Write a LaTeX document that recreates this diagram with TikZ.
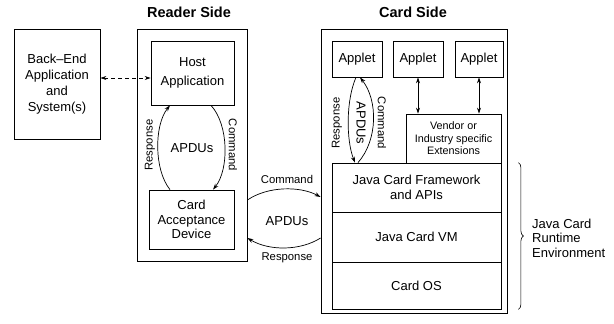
\documentclass[tikz,border=0pt]{standalone}
\usepackage{fontspec}
\setmainfont{Liberation Sans}
\usetikzlibrary{arrows.meta,calc,decorations.pathreplacing}
\newcommand\myMain{\fontsize{13}{14.5}\selectfont}
\newcommand\mySmall{\fontsize{11.3}{13}\selectfont}
\newcommand\myVend{\fontsize{10.8}{12.5}\selectfont}
\newcommand\myTitle{\fontsize{14.5}{16}\selectfont\bfseries}
\begin{document}
\begin{tikzpicture}[x=1pt,y=-1pt,
  box/.style={draw,line width=0.8pt,inner sep=0pt,align=center,font=\myMain},
  lbl/.style={font=\mySmall,inner sep=0pt},
  arr/.style={line width=0.7pt,-{Stealth[length=6pt,width=4pt]}},
  dblarr/.style={line width=0.7pt,{Stealth[length=6pt,width=4pt]}-{Stealth[length=6pt,width=4pt]}},
]
\useasboundingbox (0,0) rectangle (614,324);
% titles
\node[font=\myTitle] (rtitle) at (189,12) {Reader Side};
\node[font=\myTitle] (ctitle) at (413,12) {Card Side};
% reader side
\node[box,minimum width=86,minimum height=110] (backend) at (57,84) {Back–End\\[1.5pt]Application\\[1.5pt]and\\[1.5pt]System(s)};
\node[box,minimum width=110,minimum height=232] (readerbox) at (192,145) {};
\node[box,minimum width=83,minimum height=64] (host) at (192.5,73) {Host\\[4pt]Application};
\node[box,minimum width=85,minimum height=59] (cad) at (191.5,219.5) {Card\\Acceptance\\Device};
\draw[dblarr,dashed,dash pattern=on 4pt off 3pt] ([yshift=6pt]backend.east) -- ([yshift=-5pt]host.west);
\draw[arr] ([xshift=-21.5pt]cad.north) .. controls (154,170) and (154,125) .. ([xshift=-22.5pt]host.south);
\draw[arr] ([xshift=18.5pt]host.south) .. controls (229,125) and (229,170) .. ([xshift=21.5pt]cad.north);
\node[lbl,rotate=90] (rresp) at (150,145) {Response};
\node[lbl,rotate=-90] (rcmd) at (233,145) {Command};
\node[font=\myMain,inner sep=0pt] (rapdu) at (192,148) {APDUs};
% card side
\node[box,minimum width=186,minimum height=284] (cardbox) at (414,171) {};
\node[box,minimum width=50,minimum height=36] (applet1) at (357,59) {Applet};
\node[box,minimum width=50,minimum height=36] (applet2) at (418,59) {Applet};
\node[box,minimum width=48,minimum height=36] (applet3) at (479,59) {Applet};
\node[box,minimum width=95,minimum height=49,font=\myVend] (vendor) at (453.5,138.5) {Vendor or\\Industry specific\\Extensions};
\node[box,minimum width=169,minimum height=49] (fw) at (416.5,187.5) {Java Card Framework\\and APIs};
\node[box,minimum width=169,minimum height=50] (vm) at (416.5,237) {Java Card VM};
\node[box,minimum width=169,minimum height=47] (os) at (416.5,285.5) {Card OS};
\draw[dblarr] (applet2.south) -- (applet2.south |- vendor.north);
\draw[dblarr] (applet3.south) -- (applet3.south |- vendor.north);
\draw[arr] ([xshift=-1pt]applet1.south) .. controls (346,100) and (346,140) .. ([xshift=-61.5pt]fw.north);
\draw[arr] ([xshift=-58.5pt]fw.north) .. controls (378,140) and (378,100) .. ([xshift=3pt]applet1.south);
\node[lbl,rotate=90] (cresp) at (337,123) {Response};
\node[font=\myMain,inner sep=0pt,rotate=-90] (capdu) at (361,123) {APDUs};
\node[lbl,rotate=-90] (ccmd) at (382,123) {Command};
% brace
\draw[line width=0.6pt,decorate,decoration={brace,amplitude=5pt}] ([xshift=17pt]fw.north east) -- ([xshift=17pt]os.south east);
\node[font=\myMain,align=left,anchor=west,inner sep=0pt] (jcre) at (532,238) {Java Card\\Runtime\\Environment};
% external APDUs
\draw[arr] ([yshift=-55pt]readerbox.east) .. controls (268,186) and (300,186) .. ([yshift=-26pt]cardbox.west);
\draw[arr] ([yshift=-67pt]cardbox.west) .. controls (300,251) and (269,251) .. ([yshift=-93pt]readerbox.east);
\node[lbl] (ecmd) at (287,179) {Command};
\node[font=\myMain,inner sep=0pt] (eapdu) at (287,221) {APDUs};
\node[lbl] (eresp) at (287,258) {Response};
\end{tikzpicture}
\end{document}
